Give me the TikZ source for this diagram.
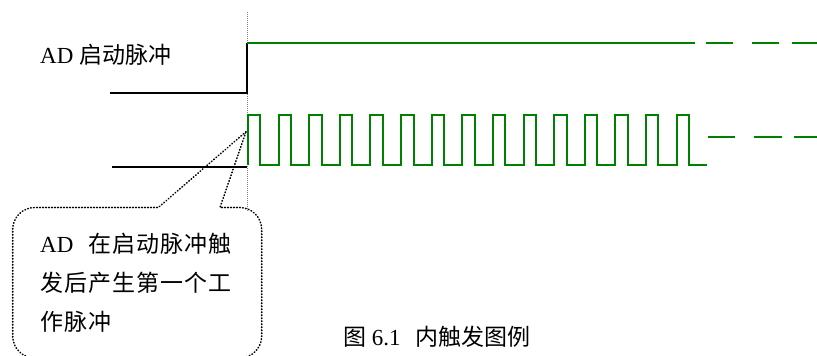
\documentclass[tikz,border=0pt]{standalone}
\usepackage{fontspec}
\setmainfont{Liberation Serif}
\newfontfamily\cjk{Noto Sans CJK SC}
\definecolor{wavegreen}{RGB}{0,128,0}
\newcommand\ks{\kern1.1pt}
\begin{document}
\begin{tikzpicture}[x=1pt,y=-1pt,
  wave/.style={line width=2pt, wavegreen},
  blackline/.style={line width=2pt, black},
  guide/.style={line width=0.7pt, gray, dash pattern=on 1pt off 1pt},
  callout/.style={line width=1.6pt, dash pattern=on 0.6pt off 2.4pt, line cap=round},
  txt/.style={inner sep=0pt, anchor=base west, font=\fontsize{23}{27}\selectfont}]
\useasboundingbox (0,0) rectangle (817,356);
% guide line
\coordinate (gtop) at (247.3,12);
\coordinate (gbot) at (247.3,212);
\draw[guide] (gtop) -- (gbot);
% start pulse
\coordinate (s0) at (110,92.7);
\coordinate (s1) at (247,92.7);
\coordinate (s2) at (247,43);
\coordinate (g1) at (694.7,42.7);
\draw[blackline] (s0) -- (s1) -- (s2);
\draw[wave] (247,42.7) -- (g1);
\coordinate (d1a) at (705.7,42.7); \coordinate (d1b) at (732.7,42.7);
\coordinate (d2a) at (752,42.7);   \coordinate (d2b) at (779,42.7);
\coordinate (d3a) at (791.7,42.7); \coordinate (d3b) at (818.7,42.7);
\draw[wave] (d1a) -- (d1b) (d2a) -- (d2b) (d3a) -- (d3b);
% work pulses
\coordinate (b0) at (111.7,166.5);
\coordinate (b1) at (247,166.5);
\draw[blackline] (b0) -- (b1);
\coordinate (p0) at (248,165);
\draw[wave] (p0) \foreach \i in {0,...,14} { -- ++(0,-50) -- ++(12.4,0) -- ++(0,50) -- ++(18.22,0) };
\coordinate (e1a) at (708.3,137.3); \coordinate (e1b) at (735.3,137.3);
\coordinate (e2a) at (754.3,137.3); \coordinate (e2b) at (781.7,137.3);
\coordinate (e3a) at (794.3,137.3); \coordinate (e3b) at (821.3,137.3);
\draw[wave] (e1a) -- (e1b) (e2a) -- (e2b) (e3a) -- (e3b);
% callout
\coordinate (tip) at (246,131.7);
\coordinate (tl) at (158.3,207.5);
\coordinate (tr) at (220,207.5);
\draw[callout] (tip) -- (tl) -- (34.7,207.5)
  arc[start angle=270, end angle=180, radius=22] -- (12.7,336)
  arc[start angle=180, end angle=90, radius=22] -- (239.7,358)
  arc[start angle=90, end angle=0, radius=22] -- (261.7,229.5)
  arc[start angle=360, end angle=270, radius=22] -- (tr) -- cycle;
% texts
\node[txt] (lbl) at (40,63.3) {AD {\cjk 启动脉冲}};
\node[txt] (c1) at (40,252.3) {AD\hspace{15pt}{\cjk 在\ks 启\ks 动\ks 脉\ks 冲\ks 触}};
\node[txt] (c2) at (40,291) {\cjk 发\ks 后\ks 产\ks 生\ks 第\ks 一\ks 个\ks 工};
\node[txt] (c3) at (40,330) {\cjk 作\ks 脉\ks 冲};
\node[txt] (cap) at (343,345) {{\cjk 图} 6.1\hspace{15pt}{\cjk 内触发图例}};
\end{tikzpicture}
\end{document}
